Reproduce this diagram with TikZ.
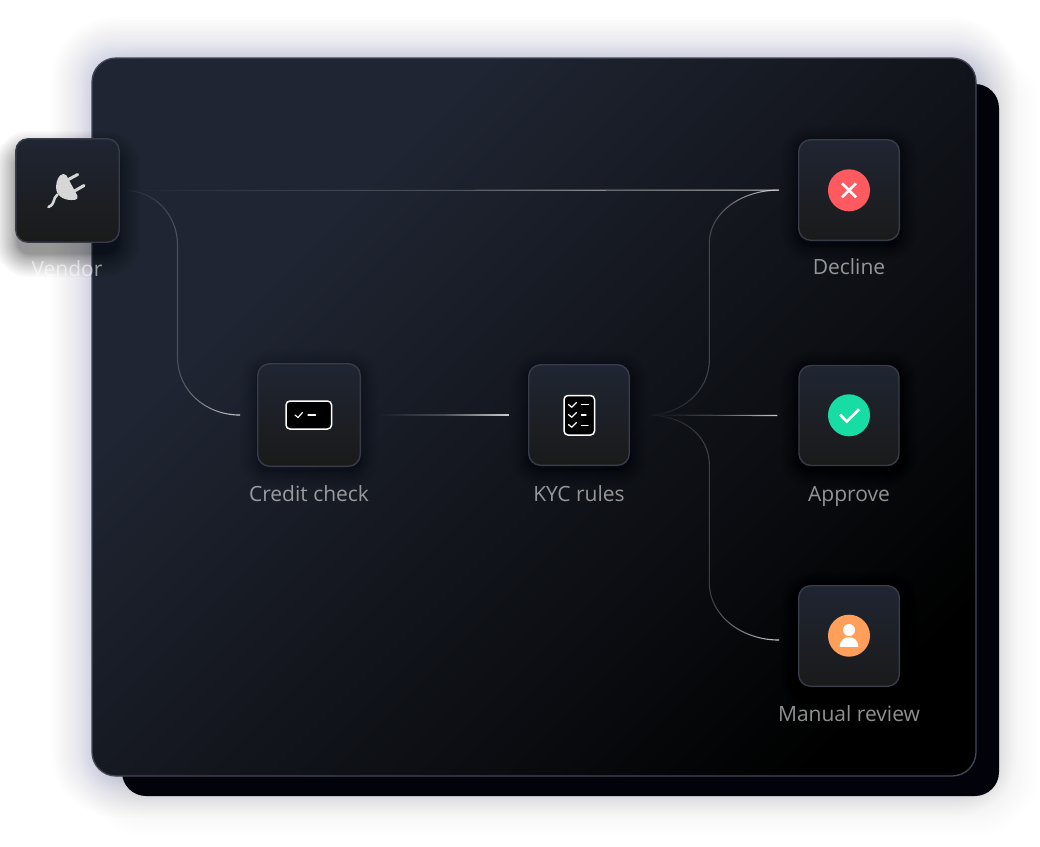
\documentclass[tikz,border=0pt]{standalone}
\usepackage{fontspec}
\setmainfont{Open Sans}
\usetikzlibrary{fadings,calc}
\definecolor{pa}{HTML}{1F2532}
\definecolor{pb}{HTML}{12151C}
\definecolor{pc}{HTML}{0A0C10}
\definecolor{pd}{HTML}{000000}
\definecolor{panelline}{HTML}{434857}
\definecolor{backpanel}{HTML}{02030A}
\definecolor{tiletop}{HTML}{1F2532}
\definecolor{tilebot}{HTML}{1A1A1A}
\definecolor{tileline}{HTML}{383C48}
\definecolor{connline}{HTML}{D0D0D4}
\definecolor{plug}{HTML}{D6D6D6}
\definecolor{cred}{HTML}{FF5A5F}
\definecolor{cgreen}{HTML}{17DCA4}
\definecolor{corange}{HTML}{FF9F5A}
\definecolor{halo}{HTML}{5C5F78}
\pgfdeclarehorizontalshading{panelshade}{100bp}{color(0bp)=(pa); color(32bp)=(pa); color(52bp)=(pb); color(64bp)=(pc); color(78bp)=(pd); color(100bp)=(pd)}
\tikzfading[name=connfade, left color=transparent!100, right color=transparent!0, middle color=transparent!72]
\tikzset{
  tile/.style={rectangle, rounded corners=12pt, minimum width=#1, minimum height=#1, inner sep=0pt,
    draw=tileline, line width=1.4pt, top color=tiletop, bottom color=tilebot, middle color=tiletop!50!tilebot},
  conn/.style={draw=connline, line width=1.1pt},
  caption/.style={anchor=base, text=white, text opacity=0.56, font=\fontsize{21}{25}\selectfont, inner sep=0pt},
  dot/.style={circle, minimum size=42pt, inner sep=0pt, fill=#1},
  icon/.style={draw=white, line width=1.5pt, line cap=round, line join=round},
}
% soft shadow: centre x,y, half width, half height, radius, colour, steps, step px, opacity
\newcommand{\softshade}[9]{%
  \foreach \i in {#7,...,1}{
    \pgfmathsetmacro{\off}{#8*#7*(\i/#7)^1.6}
    \fill[#6, opacity=#9, rounded corners={(#5+\off)*1pt}]
      ({#1-#3-\off},{#2-#4-\off}) rectangle ({#1+#3+\off},{#2+#4+\off});
  }}
% connector fading from transparent to opaque: centre x, x scale, path
\newcommand{\fadedconn}[3]{%
  \begin{scope}
    \pgfsetfading{connfade}{\pgftransformshift{\pgfpoint{#1pt}{-400pt}}\pgftransformxscale{#2}\pgftransformyscale{10}}
    \draw[conn] #3;
  \end{scope}}
\begin{document}
\begin{tikzpicture}[x=1pt,y=-1pt]
\useasboundingbox (0,0) rectangle (1040,846);
\fill[white] (0,0) rectangle (1040,846);
% outer shadows
\softshade{534}{417}{442}{359}{24}{halo}{24}{1.7}{0.007}
\softshade{560}{440}{438}{356}{24}{halo}{20}{2.0}{0.0045}
\fill[backpanel, rounded corners=24pt] (122,84) rectangle (999,796);
\path[shading=panelshade, shading angle=-45, rounded corners=24pt] (92,58) rectangle (976,776);
\draw[panelline, line width=1.3pt, rounded corners=24pt] (92,58) rectangle (976,776);
% tile shadows
\softshade{309}{419}{52}{52}{12}{black}{12}{1.4}{0.012}
\softshade{579}{419}{51}{51}{12}{black}{12}{1.4}{0.012}
\softshade{849}{194}{51}{51}{12}{black}{12}{1.4}{0.012}
\softshade{849}{419}{51}{51}{12}{black}{12}{1.4}{0.012}
\softshade{849}{640}{51}{51}{12}{black}{12}{1.4}{0.012}
\softshade{67.5}{204}{50}{50}{12}{black}{20}{1.15}{0.022}
% tiles
\node[tile=103.4pt] (vendor) at (67.5,190.5) {};
\node[tile=102.6pt] (credit) at (309,415) {};
\node[tile=100.6pt] (kyc) at (579,415) {};
\node[tile=100.6pt] (decline) at (849,190) {};
\node[tile=100pt] (approve) at (849,415.5) {};
\node[tile=100.6pt] (manual) at (849,636) {};
% connector ends
\coordinate (vendorout) at ([xshift=5pt]vendor.east);
\coordinate (creditin) at ([xshift=-17pt]credit.west);
\coordinate (creditout) at ([xshift=17pt]credit.east);
\coordinate (kycin) at ([xshift=-19pt]kyc.west);
\coordinate (kycout) at ([xshift=18pt]kyc.east);
\coordinate (declinein) at ([xshift=-19pt]decline.west);
\coordinate (approvein) at ([xshift=-21pt]approve.west);
\coordinate (manualin) at ([xshift=-19pt,yshift=-4pt]manual.west);
% connectors
\fadedconn{182}{2.35}{(vendorout) .. controls +(30,0) and +(0,-30) .. (177.5,245) -- (177.5,357) .. controls +(0,34) and +(-34,0) .. (creditin)}
\fadedconn{452}{13.1}{(vendorout) -- (declinein)}
\fadedconn{444}{2.65}{(creditout) -- (kycin)}
\fadedconn{714}{2.65}{(kycout) .. controls +(32,0) and +(0,32) .. (709.3,360) -- (709.3,243) .. controls +(0,-30) and +(-38,0) .. (declinein)}
\fadedconn{714}{2.65}{(kycout) -- (approvein)}
\fadedconn{714}{2.65}{(kycout) .. controls +(32,0) and +(0,-32) .. (709.3,465) -- (709.3,583) .. controls +(0,32) and +(-38,0) .. (manualin)}
% plug icon
\fill[plug] (60,175.5) .. controls (62,173.5) and (65,173.3) .. (66.5,175.5) -- (77.3,195.5) .. controls (78.3,198) and (77.5,199.5) .. (75,199.8)
   .. controls (66,201) and (58,197.5) .. (56.3,190) .. controls (55.5,185) and (57,178.5) .. (60,175.5) -- cycle;
\draw[plug, line width=3pt, line cap=round] (67.5,180) -- (77.7,174.5);
\draw[plug, line width=3pt, line cap=round] (74.5,191) -- (84,185.5);
\draw[plug, line width=2.6pt, line cap=round] (57.5,194.5) .. controls (52,199) and (56,203.5) .. (48.5,207);
% credit icon
\draw[white, fill=black, line width=1.5pt, rounded corners=4pt] (286,401) rectangle (331.5,429);
\draw[icon, line width=1.2pt] (295,415) -- (298,417.5) -- (302.5,412.5);
\draw[icon, line width=1.2pt] (308,415) -- (315.5,415);
% kyc icon
\draw[white, fill=black, line width=1.5pt, rounded corners=4pt] (564,395.5) rectangle (594.5,435);
\foreach \dy in {0,10,20}{
  \draw[icon, line width=1.2pt] (568.5,{404.5+\dy}) -- (571.7,{407.3+\dy}) -- (576.5,{402.5+\dy});
}
\draw[icon, line width=1.2pt] (581.5,404.7) -- (588.5,404.7);
\draw[icon, line width=1.2pt] (581.5,415) -- (586,415);
\draw[icon, line width=1.2pt] (581.5,425.7) -- (588,425.7);
% status dots
\node[dot=cred] (declinedot) at (849,190.3) {};
\draw[icon, line width=2.6pt, line cap=butt] (842,183.3) -- (856,197.3) (856,183.3) -- (842,197.3);
\node[dot=cgreen] (approvedot) at (849,415.3) {};
\draw[icon, line width=2.7pt, line cap=butt, line join=miter] (840,414.5) -- (846.7,421.5) -- (859,409.2);
\node[dot=corange] (manualdot) at (849,635.7) {};
\fill[white] (849,630) circle (6);
\fill[white] (839.7,646.8) .. controls (839.7,640.5) and (844,637.2) .. (849,637.2) .. controls (854,637.2) and (858.3,640.5) .. (858.3,646.8) -- cycle;
% captions
\node[caption] (vendorcap) at (67,276) {Vendor};
\node[caption] (creditcap) at (309,501) {Credit check};
\node[caption] (kyccap) at (579,501) {KYC rules};
\node[caption] (declinecap) at (849,274) {Decline};
\node[caption] (approvecap) at (849,501) {Approve};
\node[caption] (manualcap) at (849,721) {Manual review};
\end{tikzpicture}
\end{document}
